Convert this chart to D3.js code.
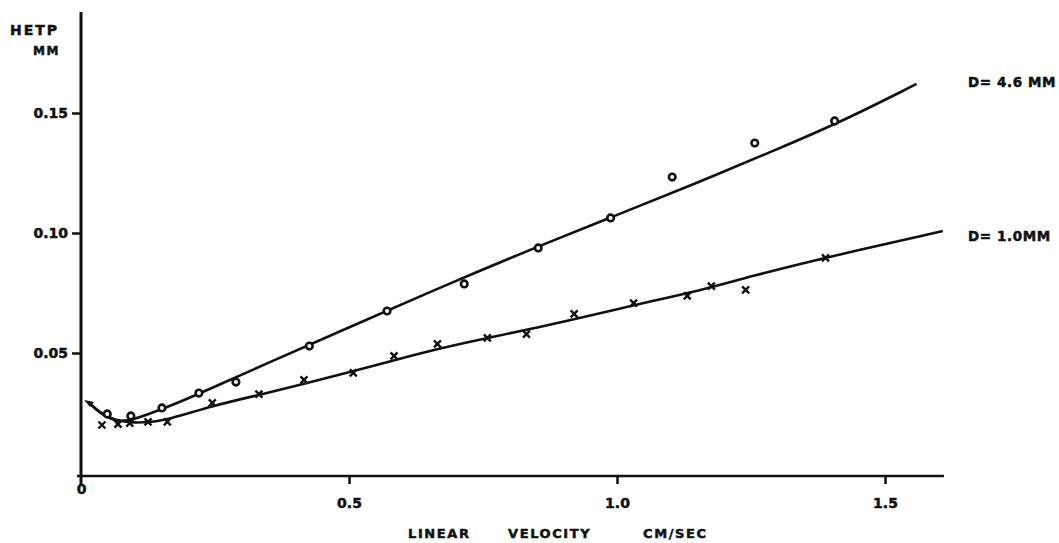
<!DOCTYPE html>
<html>
<head>
<meta charset="utf-8">
<script src="https://cdn.jsdelivr.net/npm/d3@7"></script>
<style>
  body { margin: 0; background: #fff; }
  text { font-family: "DejaVu Sans", sans-serif; font-weight: bold; fill: #111; stroke: #111; stroke-width: 0.5px; }
  .axis path { display: none; }
  .axis line { stroke: #111; stroke-width: 2.5; }
</style>
</head>
<body>
<div id="chart"></div>
<script>
var width = 1059,
    height = 543;

// measured points, D = 4.6 mm (open circles)
var velBig  = [0.049, 0.093, 0.151, 0.220, 0.289, 0.426, 0.571, 0.715, 0.853, 0.988, 1.103, 1.257, 1.406];
var hetpBig = [0.0246, 0.0238, 0.0271, 0.0333, 0.0379, 0.0529, 0.0675, 0.0788, 0.0938, 0.1063, 0.1233, 0.1375, 0.1467];

// measured points, D = 1.0 mm (crosses)
var velSmall  = [0.039, 0.069, 0.091, 0.125, 0.161, 0.245, 0.332, 0.416, 0.508, 0.584, 0.665, 0.758, 0.831, 0.920, 1.031, 1.131, 1.176, 1.240, 1.389];
var hetpSmall = [0.0200, 0.0204, 0.0208, 0.0213, 0.0213, 0.0292, 0.0329, 0.0388, 0.0417, 0.0488, 0.0538, 0.0563, 0.0579, 0.0663, 0.0708, 0.0738, 0.0779, 0.0763, 0.0896];

// starting point shared by both curves
var startPoint = [0.015, 0.0292];

// hand drawn fitted curves (guide points)
var curveBigV = [0.015, 0.035, 0.060, 0.085, 0.120, 0.170, 0.240, 0.340, 0.489, 0.689, 0.876, 1.000, 1.140, 1.300, 1.420, 1.559];
var curveBigH = [0.0292, 0.0250, 0.0218, 0.0215, 0.0240, 0.0282, 0.0350, 0.0450, 0.0596, 0.0792, 0.0965, 0.1075, 0.1200, 0.1350, 0.1465, 0.1621];
var curveSmallV = [0.015, 0.035, 0.060, 0.090, 0.125, 0.166, 0.245, 0.332, 0.416, 0.502, 0.584, 0.670, 0.758, 0.850, 0.950, 1.050, 1.150, 1.250, 1.389, 1.608];
var curveSmallH = [0.0292, 0.0252, 0.0222, 0.0210, 0.0210, 0.0225, 0.0280, 0.0325, 0.0372, 0.0421, 0.0470, 0.0520, 0.0563, 0.0605, 0.0655, 0.0710, 0.0757, 0.0820, 0.0898, 0.1008];

var xTicks = [0, 0.5, 1.0, 1.5];
var yTicks = [0.05, 0.10, 0.15];
var seriesLabels = ["D= 4.6 MM", "D= 1.0MM"];
var xTitle = ["LINEAR", "VELOCITY", "CM/SEC"];

var x = d3.scaleLinear().domain([0, 1.5]).range([81, 885]);
var y = d3.scaleLinear().domain([0, 0.15]).range([473, 113]);

var svg = d3.select('#chart').append('svg')
  .attr('width', width)
  .attr('height', height);

// axes
svg.append('line')
  .attr('x1', x(0)).attr('x2', x(0))
  .attr('y1', 12).attr('y2', 484)
  .attr('stroke', '#111').attr('stroke-width', 3);
svg.append('line')
  .attr('x1', 77).attr('x2', x(1.61))
  .attr('y1', 476).attr('y2', 476)
  .attr('stroke', '#111').attr('stroke-width', 2.5);

var yAxis = svg.append('g')
  .attr('class', 'axis')
  .attr('transform', 'translate(' + x(0) + ',0)')
  .call(d3.axisLeft(y).tickValues(yTicks).tickSize(9).tickPadding(4)
    .tickFormat(d3.format('.2f')));
yAxis.selectAll('text').style('font-size', '14px').attr('fill', '#111');

var xAxis = svg.append('g')
  .attr('class', 'axis')
  .attr('transform', 'translate(0,476)')
  .call(d3.axisBottom(x).tickValues(xTicks).tickSize(8).tickPadding(14)
    .tickFormat(function(d) { return d === 0 ? '0' : d3.format('.1f')(d); }));
xAxis.selectAll('text').style('font-size', '14px').attr('fill', '#111');
xAxis.selectAll('.tick').filter(function(d) { return d === 0; }).select('text').attr('dy', '-0.3em');
xAxis.selectAll('.tick').filter(function(d) { return d === 0; }).select('line').remove();

// axis titles
svg.append('text').attr('x', 10).attr('y', 35)
  .style('font-size', '14px').style('letter-spacing', '2px').text('HETP');
svg.append('text').attr('x', 33).attr('y', 55)
  .style('font-size', '12px').style('letter-spacing', '1.5px').text('MM');

var titleX = [408, 508, 643];
svg.selectAll('.xtitle')
  .data(xTitle).enter()
  .append('text')
  .attr('class', 'xtitle')
  .attr('x', function(d, i) { return titleX[i]; })
  .attr('y', 538)
  .style('font-size', '13px')
  .style('letter-spacing', '1.6px')
  .text(function(d) { return d; });

// fitted curves
var line = d3.line()
  .x(function(d) { return x(d[0]); })
  .y(function(d) { return y(d[1]); })
  .curve(d3.curveBasis);

var curves = [
  d3.zip(curveBigV, curveBigH),
  d3.zip(curveSmallV, curveSmallH)
];

svg.selectAll('.curve')
  .data(curves).enter()
  .append('path')
  .attr('class', 'curve')
  .attr('d', line)
  .attr('fill', 'none')
  .attr('stroke', '#111')
  .attr('stroke-width', 2.6)
  .attr('stroke-linejoin', 'round');

// start flag
svg.append('path')
  .attr('d', 'M' + (x(startPoint[0]) - 5) + ',' + (y(startPoint[1]) - 3) +
    'L' + (x(startPoint[0]) + 5) + ',' + (y(startPoint[1]) - 1) +
    'L' + (x(startPoint[0]) + 1) + ',' + (y(startPoint[1]) + 4) + 'Z')
  .attr('fill', '#111');

// circles
svg.selectAll('.big')
  .data(d3.zip(velBig, hetpBig)).enter()
  .append('circle')
  .attr('class', 'big')
  .attr('cx', function(d) { return x(d[0]); })
  .attr('cy', function(d) { return y(d[1]); })
  .attr('r', 3.3)
  .attr('fill', '#fff')
  .attr('stroke', '#111')
  .attr('stroke-width', 2.6);

// crosses
var s = 3.5;
svg.selectAll('.small')
  .data(d3.zip(velSmall, hetpSmall)).enter()
  .append('path')
  .attr('class', 'small')
  .attr('d', function(d) {
    var cx = x(d[0]), cy = y(d[1]);
    return 'M' + (cx - s) + ',' + (cy - s) + 'L' + (cx + s) + ',' + (cy + s) +
           'M' + (cx + s) + ',' + (cy - s) + 'L' + (cx - s) + ',' + (cy + s);
  })
  .attr('stroke', '#111')
  .attr('stroke-width', 2.4);

// series labels
var labelY = [87, 241];
svg.selectAll('.slabel')
  .data(seriesLabels).enter()
  .append('text')
  .attr('class', 'slabel')
  .attr('x', 968)
  .attr('y', function(d, i) { return labelY[i]; })
  .style('font-size', '13.5px')
  .style('letter-spacing', '0.6px')
  .text(function(d) { return d; });
</script>
</body>
</html>
